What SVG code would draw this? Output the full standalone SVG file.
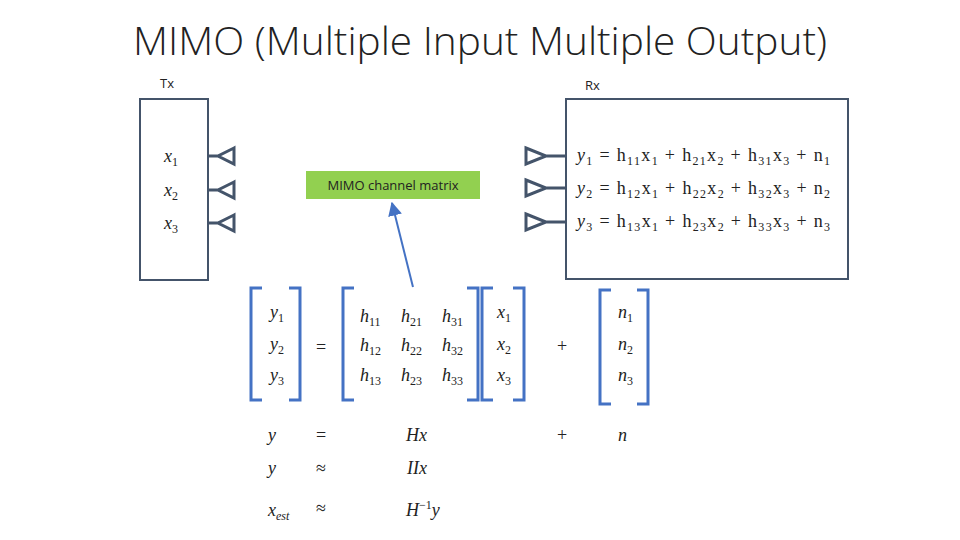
<svg xmlns="http://www.w3.org/2000/svg" width="960" height="540" viewBox="0 0 960 540">
<style>
.box{fill:#fff;stroke:#44546a;stroke-width:2}
.ant{fill:none;stroke:#44546a;stroke-width:3}
.br{fill:none;stroke:#4472c4;stroke-width:3}
.m{font-family:"Liberation Serif",serif;font-style:italic;font-size:18px;fill:#222}
.e{font-family:"Liberation Serif",serif;font-size:18px;fill:#222}
.s{font-size:12px;font-style:normal}
.si{font-size:12px}
.lab{font-family:"Open Sans","Liberation Sans",sans-serif;font-size:13px;fill:#222}
</style>
<defs><marker id="ah" viewBox="0 0 10 10" refX="9" refY="5" markerWidth="7" markerHeight="7" orient="auto"><path d="M0,0 L10,5 L0,10 z" fill="#4472c4"/></marker></defs>
<rect width="960" height="540" fill="#fff"/>
<text x="133" y="55" textLength="694" lengthAdjust="spacingAndGlyphs" font-family="'Open Sans','Liberation Sans',sans-serif" font-weight="300" font-size="38" fill="#222">MIMO (Multiple Input Multiple Output)</text>
<g id="tx">
<text class="lab" x="160" y="88">Tx</text>
<rect class="box" x="140" y="99" width="68" height="181"/>
<text class="m" x="164" y="162">x<tspan class="s" dy="4">1</tspan></text>
<text class="m" x="164" y="196">x<tspan class="s" dy="4">2</tspan></text>
<text class="m" x="164" y="229">x<tspan class="s" dy="4">3</tspan></text>
<path class="ant" d="M208,156H218M234,148L218,156L234,164Z M208,190H218M234,182L218,190L234,198Z M208,223H218M234,215L218,223L234,231Z"/>
</g>
<g id="rx">
<text class="lab" x="585" y="90">Rx</text>
<rect class="box" x="566" y="99" width="282" height="180"/>
<path class="ant" d="M526,148L546,156L526,164Z M546,156H566 M526,180L546,188L526,196Z M546,188H566 M526,214L546,222L526,230Z M546,222H566"/>
<text class="e" x="577" y="161" textLength="253" lengthAdjust="spacing"><tspan font-style="italic">y</tspan><tspan class="s" dy="4">1</tspan><tspan dy="-4"> = h</tspan><tspan class="s" dy="4">11</tspan><tspan dy="-4">x</tspan><tspan class="s" dy="4">1</tspan><tspan dy="-4"> + h</tspan><tspan class="s" dy="4">21</tspan><tspan dy="-4">x</tspan><tspan class="s" dy="4">2</tspan><tspan dy="-4"> + h</tspan><tspan class="s" dy="4">31</tspan><tspan dy="-4">x</tspan><tspan class="s" dy="4">3</tspan><tspan dy="-4"> + n</tspan><tspan class="s" dy="4">1</tspan></text>
<text class="e" x="577" y="194" textLength="253" lengthAdjust="spacing"><tspan font-style="italic">y</tspan><tspan class="s" dy="4">2</tspan><tspan dy="-4"> = h</tspan><tspan class="s" dy="4">12</tspan><tspan dy="-4">x</tspan><tspan class="s" dy="4">1</tspan><tspan dy="-4"> + h</tspan><tspan class="s" dy="4">22</tspan><tspan dy="-4">x</tspan><tspan class="s" dy="4">2</tspan><tspan dy="-4"> + h</tspan><tspan class="s" dy="4">32</tspan><tspan dy="-4">x</tspan><tspan class="s" dy="4">3</tspan><tspan dy="-4"> + n</tspan><tspan class="s" dy="4">2</tspan></text>
<text class="e" x="577" y="227" textLength="253" lengthAdjust="spacing"><tspan font-style="italic">y</tspan><tspan class="s" dy="4">3</tspan><tspan dy="-4"> = h</tspan><tspan class="s" dy="4">13</tspan><tspan dy="-4">x</tspan><tspan class="s" dy="4">1</tspan><tspan dy="-4"> + h</tspan><tspan class="s" dy="4">23</tspan><tspan dy="-4">x</tspan><tspan class="s" dy="4">2</tspan><tspan dy="-4"> + h</tspan><tspan class="s" dy="4">33</tspan><tspan dy="-4">x</tspan><tspan class="s" dy="4">3</tspan><tspan dy="-4"> + n</tspan><tspan class="s" dy="4">3</tspan></text>
</g>
<g id="label">
<rect x="306" y="171" width="174" height="28" fill="#92d050"/>
<text class="lab" x="393" y="190" text-anchor="middle">MIMO channel matrix</text>
</g>
<g id="connectors">
<line x1="413" y1="287" x2="392" y2="203" stroke="#4472c4" stroke-width="2" marker-end="url(#ah)"/>
</g>
<g id="matrices">
<path class="br" d="M262,288H251V400H262 M289,288H300V400H289 M354,288H343V400H354 M467,288H478V400H467 M493,288H482V400H493 M513,288H524V400H513 M611,290H600V404H611 M637,290H648V404H637"/>
<text class="m" x="270" y="318">y<tspan class="s" dy="4">1</tspan></text>
<text class="m" x="270" y="350">y<tspan class="s" dy="4">2</tspan></text>
<text class="m" x="270" y="381">y<tspan class="s" dy="4">3</tspan></text>
<text class="e" x="316" y="353">=</text>
<g class="m">
<text x="360" y="322">h<tspan class="s" dy="4">11</tspan></text><text x="401" y="322">h<tspan class="s" dy="4">21</tspan></text><text x="442" y="322">h<tspan class="s" dy="4">31</tspan></text>
<text x="360" y="351">h<tspan class="s" dy="4">12</tspan></text><text x="401" y="351">h<tspan class="s" dy="4">22</tspan></text><text x="442" y="351">h<tspan class="s" dy="4">32</tspan></text>
<text x="360" y="381">h<tspan class="s" dy="4">13</tspan></text><text x="401" y="381">h<tspan class="s" dy="4">23</tspan></text><text x="442" y="381">h<tspan class="s" dy="4">33</tspan></text>
<text x="497" y="318">x<tspan class="s" dy="4">1</tspan></text>
<text x="497" y="350">x<tspan class="s" dy="4">2</tspan></text>
<text x="497" y="381">x<tspan class="s" dy="4">3</tspan></text>
<text x="618" y="318">n<tspan class="s" dy="4">1</tspan></text>
<text x="618" y="350">n<tspan class="s" dy="4">2</tspan></text>
<text x="618" y="381">n<tspan class="s" dy="4">3</tspan></text>
</g>
<text class="e" x="557" y="352">+</text>
</g>
<g id="equations">
<text class="m" x="268" y="441">y</text><text class="e" x="316" y="441">=</text><text class="m" x="406" y="441">Hx</text><text class="e" x="557" y="441">+</text><text class="m" x="618" y="441">n</text>
<text class="m" x="268" y="474">y</text><text class="e" x="316" y="474">≈</text><text class="m" x="407" y="474">IIx</text>
<text class="m" x="268" y="516">x<tspan class="si" dy="4">est</tspan></text><text class="e" x="316" y="514">≈</text><text class="m" x="406" y="516">H<tspan class="s" dy="-7">−1</tspan><tspan dy="7">y</tspan></text>
</g>
</svg>
